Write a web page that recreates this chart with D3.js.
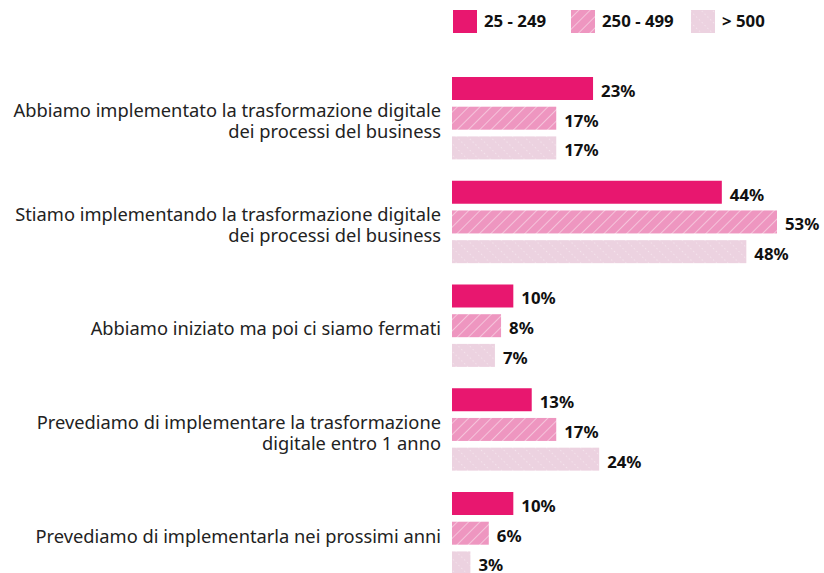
<!DOCTYPE html>
<html>
<head>
<meta charset="utf-8">
<script src="https://cdn.jsdelivr.net/npm/d3@7"></script>
<style>
  body { margin: 0; background: #fff; }
  svg { display: block; font-family: "Source Sans Pro", "Noto Sans", sans-serif; }
</style>
</head>
<body>
<div id="chart"></div>
<script>
const categories = [
    ["Abbiamo implementato la trasformazione digitale", "dei processi del business"],
    ["Stiamo implementando la trasformazione digitale", "dei processi del business"],
    ["Abbiamo iniziato ma poi ci siamo fermati"],
    ["Prevediamo di implementare la trasformazione", "digitale entro 1 anno"],
    ["Prevediamo di implementarla nei prossimi anni"]
];
const seriesNames = ["25 - 249", "250 - 499", "> 500"];
const small = [23, 44, 10, 13, 10];
const medium = [17, 53, 8, 17, 6];
const large = [17, 48, 7, 24, 3];
const series = [small, medium, large];

const width = 824, height = 573;
const svg = d3.select("#chart").append("svg")
    .attr("width", width)
    .attr("height", height);

// patterns
const defs = svg.append("defs");
const p1 = defs.append("pattern")
    .attr("id", "stripes")
    .attr("patternUnits", "userSpaceOnUse")
    .attr("width", 8).attr("height", 8)
    .attr("patternTransform", "rotate(45)");
p1.append("rect").attr("width", 8).attr("height", 8).attr("fill", "#ee96c0");
p1.append("line").attr("x1", 0).attr("y1", 0).attr("x2", 0).attr("y2", 8)
    .attr("stroke", "#fbe3ee").attr("stroke-width", 1.2);

const p2 = defs.append("pattern")
    .attr("id", "dots")
    .attr("patternUnits", "userSpaceOnUse")
    .attr("width", 8).attr("height", 8)
    .attr("patternTransform", "rotate(-45)");
p2.append("rect").attr("width", 8).attr("height", 8).attr("fill", "#ecd2e0");
p2.append("line").attr("x1", 0).attr("y1", 0).attr("x2", 0).attr("y2", 8)
    .attr("stroke", "#fbf2f6").attr("stroke-width", 1.2)
    .attr("stroke-dasharray", "1.2,2.8");

const fills = ["#e8176f", "url(#stripes)", "url(#dots)"];

const x = d3.scaleLinear().domain([0, 53]).range([452, 777]);
const y0 = d3.scaleBand().domain(d3.range(categories.length))
    .range([77, 77 + 103.75 * categories.length]).paddingInner(0);
const y1 = d3.scaleBand().domain(d3.range(3)).range([0, 82.4])
    .paddingInner(0.226).paddingOuter(0);

// legend
const legendX = [453, 571, 691];
const legend = svg.append("g");
seriesNames.forEach((name, i) => {
    legend.append("rect")
        .attr("x", legendX[i]).attr("y", 10)
        .attr("width", 24).attr("height", 23)
        .attr("fill", fills[i]);
    legend.append("text")
        .attr("x", legendX[i] + 31).attr("y", 21.5)
        .attr("dy", "0.35em")
        .attr("font-size", 16.8).attr("font-weight", "bold")
        .attr("fill", "#111")
        .text(name);
});

// bars
const groups = svg.append("g").selectAll("g")
    .data(categories)
    .join("g")
    .attr("transform", (d, i) => `translate(0,${y0(i)})`);

groups.each(function (cat, i) {
    const g = d3.select(this);
    series.forEach((vals, s) => {
        g.append("rect")
            .attr("x", x(0))
            .attr("y", y1(s))
            .attr("width", x(vals[i]) - x(0))
            .attr("height", y1.bandwidth())
            .attr("fill", fills[s]);
        g.append("text")
            .attr("x", x(vals[i]) + 8)
            .attr("y", y1(s) + y1.bandwidth() / 2 + 2.5)
            .attr("dy", "0.35em")
            .attr("font-size", 16.8).attr("font-weight", "bold")
            .attr("fill", "#111")
            .text(vals[i] + "%");
    });
    const mid = 44.5;
    const lh = 21;
    const t = g.append("text")
        .attr("text-anchor", "end")
        .attr("font-size", 18.3)
        .attr("fill", "#222");
    cat.forEach((ln, k) => {
        t.append("tspan")
            .attr("x", 441)
            .attr("y", mid + (k - (cat.length - 1) / 2) * lh)
            .attr("dy", "0.35em")
            .text(ln);
    });
});
</script>
</body>
</html>
